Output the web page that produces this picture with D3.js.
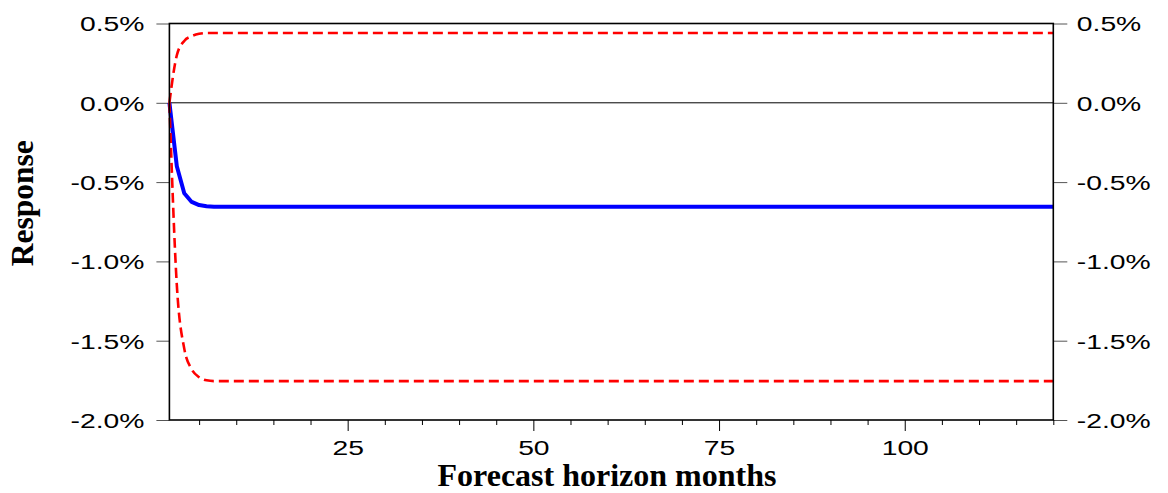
<!DOCTYPE html>
<html>
<head>
<meta charset="utf-8">
<script src="https://cdn.jsdelivr.net/npm/d3@7"></script>
<style>
  html, body { margin: 0; padding: 0; background: #fff; }
  svg { display: block; }
</style>
</head>
<body>
<svg id="chart" width="1168" height="493"></svg>
<script>
// Forecast horizon (months) and impulse responses, in percent
const horizon = d3.range(1, 121);

const response = [
  0, -0.40, -0.57, -0.625, -0.645, -0.652, -0.655, -0.655, -0.655, -0.655,
  -0.655, -0.655, -0.655, -0.655, -0.655, -0.655, -0.655, -0.655, -0.655, -0.655,
  -0.655, -0.655, -0.655, -0.655, -0.655, -0.655, -0.655, -0.655, -0.655, -0.655,
  -0.655, -0.655, -0.655, -0.655, -0.655, -0.655, -0.655, -0.655, -0.655, -0.655,
  -0.655, -0.655, -0.655, -0.655, -0.655, -0.655, -0.655, -0.655, -0.655, -0.655,
  -0.655, -0.655, -0.655, -0.655, -0.655, -0.655, -0.655, -0.655, -0.655, -0.655,
  -0.655, -0.655, -0.655, -0.655, -0.655, -0.655, -0.655, -0.655, -0.655, -0.655,
  -0.655, -0.655, -0.655, -0.655, -0.655, -0.655, -0.655, -0.655, -0.655, -0.655,
  -0.655, -0.655, -0.655, -0.655, -0.655, -0.655, -0.655, -0.655, -0.655, -0.655,
  -0.655, -0.655, -0.655, -0.655, -0.655, -0.655, -0.655, -0.655, -0.655, -0.655,
  -0.655, -0.655, -0.655, -0.655, -0.655, -0.655, -0.655, -0.655, -0.655, -0.655,
  -0.655, -0.655, -0.655, -0.655, -0.655, -0.655, -0.655, -0.655, -0.655, -0.655
];

const upperBand = [
  0, 0.30, 0.39, 0.42, 0.435, 0.44, 0.44, 0.44, 0.44, 0.44,
  0.44, 0.44, 0.44, 0.44, 0.44, 0.44, 0.44, 0.44, 0.44, 0.44,
  0.44, 0.44, 0.44, 0.44, 0.44, 0.44, 0.44, 0.44, 0.44, 0.44,
  0.44, 0.44, 0.44, 0.44, 0.44, 0.44, 0.44, 0.44, 0.44, 0.44,
  0.44, 0.44, 0.44, 0.44, 0.44, 0.44, 0.44, 0.44, 0.44, 0.44,
  0.44, 0.44, 0.44, 0.44, 0.44, 0.44, 0.44, 0.44, 0.44, 0.44,
  0.44, 0.44, 0.44, 0.44, 0.44, 0.44, 0.44, 0.44, 0.44, 0.44,
  0.44, 0.44, 0.44, 0.44, 0.44, 0.44, 0.44, 0.44, 0.44, 0.44,
  0.44, 0.44, 0.44, 0.44, 0.44, 0.44, 0.44, 0.44, 0.44, 0.44,
  0.44, 0.44, 0.44, 0.44, 0.44, 0.44, 0.44, 0.44, 0.44, 0.44,
  0.44, 0.44, 0.44, 0.44, 0.44, 0.44, 0.44, 0.44, 0.44, 0.44,
  0.44, 0.44, 0.44, 0.44, 0.44, 0.44, 0.44, 0.44, 0.44, 0.44
];

const lowerBand = [
  0, -1.15, -1.55, -1.68, -1.73, -1.75, -1.755, -1.755, -1.755, -1.755,
  -1.755, -1.755, -1.755, -1.755, -1.755, -1.755, -1.755, -1.755, -1.755, -1.755,
  -1.755, -1.755, -1.755, -1.755, -1.755, -1.755, -1.755, -1.755, -1.755, -1.755,
  -1.755, -1.755, -1.755, -1.755, -1.755, -1.755, -1.755, -1.755, -1.755, -1.755,
  -1.755, -1.755, -1.755, -1.755, -1.755, -1.755, -1.755, -1.755, -1.755, -1.755,
  -1.755, -1.755, -1.755, -1.755, -1.755, -1.755, -1.755, -1.755, -1.755, -1.755,
  -1.755, -1.755, -1.755, -1.755, -1.755, -1.755, -1.755, -1.755, -1.755, -1.755,
  -1.755, -1.755, -1.755, -1.755, -1.755, -1.755, -1.755, -1.755, -1.755, -1.755,
  -1.755, -1.755, -1.755, -1.755, -1.755, -1.755, -1.755, -1.755, -1.755, -1.755,
  -1.755, -1.755, -1.755, -1.755, -1.755, -1.755, -1.755, -1.755, -1.755, -1.755,
  -1.755, -1.755, -1.755, -1.755, -1.755, -1.755, -1.755, -1.755, -1.755, -1.755,
  -1.755, -1.755, -1.755, -1.755, -1.755, -1.755, -1.755, -1.755, -1.755, -1.755
];

const yTicks = [-2.0, -1.5, -1.0, -0.5, 0.0, 0.5];
const xMajorTicks = [25, 50, 75, 100];
const xMinorTicks = [5, 10, 15, 20, 30, 35, 40, 45, 55, 60, 65, 70, 80, 85, 90, 95, 105, 110, 115, 120];

const xTitle = "Forecast horizon months";
const yTitle = "Response";

// ---- layout ----
const plot = { left: 169.4, right: 1053.3, top: 23.5, bottom: 420 };
const labelStretch = 1.38;   // wide tick-label lettering
const labelFont = "'Liberation Sans', Arial, sans-serif";

const svg = d3.select("#chart");

const x = d3.scaleLinear().domain([1, 120]).range([plot.left, plot.right]);
const y = d3.scaleLinear().domain([-2, 0.5]).range([plot.bottom, plot.top]);

const fmt = d => d.toFixed(1) + "%";

function styleTickLabels(g, dx, anchor) {
  g.selectAll(".tick text")
    .attr("x", 0).attr("dy", "0.36em")
    .attr("text-anchor", anchor)
    .attr("transform", `translate(${dx},0) scale(${labelStretch},1)`)
    .attr("fill", "#000")
    .style("font-family", labelFont)
    .style("font-size", "20.5px");
  g.selectAll(".tick line").attr("stroke", "#555").attr("stroke-width", 1);
  g.select(".domain").remove();
}

// Left axis
svg.append("g")
  .attr("transform", `translate(${plot.left},0)`)
  .call(d3.axisLeft(y).tickValues(yTicks).tickSize(13).tickFormat(fmt))
  .call(g => styleTickLabels(g, -25, "end"));

// Right axis
svg.append("g")
  .attr("transform", `translate(${plot.right},0)`)
  .call(d3.axisRight(y).tickValues(yTicks).tickSize(14).tickFormat(fmt))
  .call(g => styleTickLabels(g, 23.5, "start"));

// Bottom axis: minor ticks
svg.append("g")
  .attr("transform", `translate(0,${plot.bottom})`)
  .call(d3.axisBottom(x).tickValues(xMinorTicks).tickSize(5).tickFormat(""))
  .call(g => {
    g.select(".domain").remove();
    g.selectAll(".tick line").attr("stroke", "#000").attr("stroke-width", 1);
  });

// Bottom axis: labelled ticks
svg.append("g")
  .attr("transform", `translate(0,${plot.bottom})`)
  .call(d3.axisBottom(x).tickValues(xMajorTicks).tickSize(11).tickFormat(d3.format("d")))
  .call(g => {
    g.select(".domain").remove();
    g.selectAll(".tick line").attr("stroke", "#000").attr("stroke-width", 1);
    g.selectAll(".tick text")
      .attr("y", 0).attr("dy", 0)
      .attr("text-anchor", "middle")
      .attr("transform", `translate(0,35) scale(${labelStretch},1)`)
      .attr("fill", "#000")
      .style("font-family", labelFont)
      .style("font-size", "20.5px");
  });

// Zero reference line
svg.append("line")
  .attr("x1", plot.left).attr("x2", plot.right)
  .attr("y1", y(0)).attr("y2", y(0))
  .attr("stroke", "#000").attr("stroke-width", 1);

// Series: point estimate drawn segment by segment, bands smoothed
const xAt = (d, i) => x(horizon[i]);
const responseLine = d3.line().x(xAt).y(d => y(d));
const bandLine = d3.line().x(xAt).y(d => y(d)).curve(d3.curveMonotoneX);

svg.append("path")
  .datum(response)
  .attr("d", responseLine)
  .attr("fill", "none")
  .attr("stroke", "#0000ff")
  .attr("stroke-width", 4)
  .attr("stroke-linejoin", "round");

[upperBand, lowerBand].forEach(band => {
  svg.append("path")
    .datum(band)
    .attr("d", bandLine)
    .attr("fill", "none")
    .attr("stroke", "#ff0000")
    .attr("stroke-width", 2.6)
    .attr("stroke-dasharray", "10,5");
});

// Plot frame
svg.append("rect")
  .attr("x", plot.left).attr("y", plot.top)
  .attr("width", plot.right - plot.left)
  .attr("height", plot.bottom - plot.top)
  .attr("fill", "none")
  .attr("stroke", "#000")
  .attr("stroke-width", 1.6);

// Axis titles
svg.append("text")
  .attr("x", 607).attr("y", 486)
  .attr("text-anchor", "middle")
  .style("font-family", "'Liberation Serif', 'Times New Roman', serif")
  .style("font-weight", "bold")
  .style("font-size", "32px")
  .text(xTitle);

svg.append("text")
  .attr("transform", "translate(32.7,203.3) rotate(-90)")
  .attr("text-anchor", "middle")
  .style("font-family", "'Liberation Serif', 'Times New Roman', serif")
  .style("font-weight", "bold")
  .style("font-size", "31.5px")
  .text(yTitle);
</script>
</body>
</html>
